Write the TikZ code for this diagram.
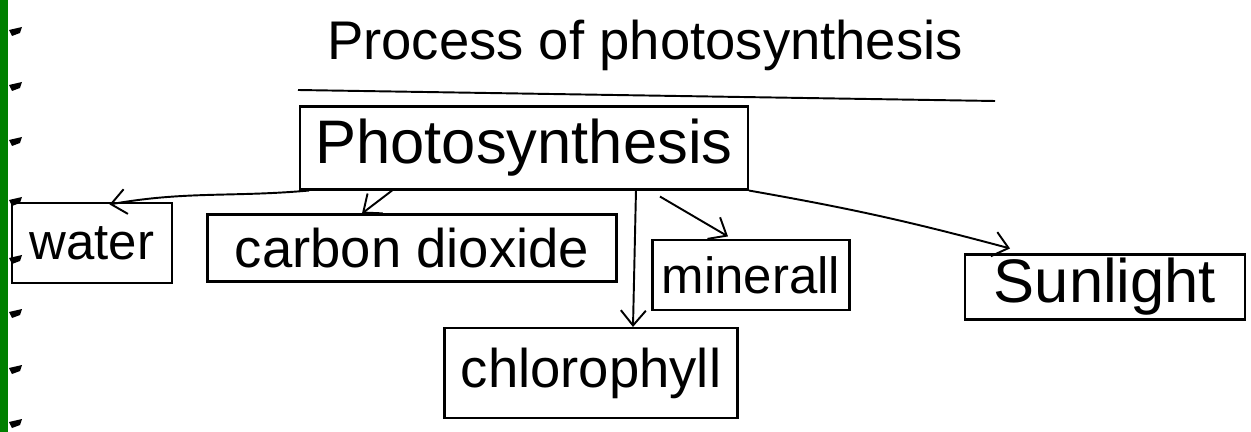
\documentclass[tikz,border=0pt]{standalone}
\usepackage{fontspec}
\setmainfont{Liberation Sans}
\usetikzlibrary{arrows.meta}
\begin{document}
\begin{tikzpicture}[x=0.02cm,y=-0.02cm,
  box/.style={draw,line width=1.2pt,inner sep=0pt},
  conn/.style={line width=1.1pt,-{Straight Barb[length=3mm,width=5mm]}}]
\useasboundingbox (0,0) rectangle (1251,432);
\fill[white] (0,0) rectangle (1251,432);
\fill[green!50!black] (0,0) rectangle (8,432);
\foreach \yy in {30,85,140,200,258,312,368,422}
  \fill[black] (9,\yy) -- (22,\yy-3) -- (20,\yy+3) -- (12,\yy+6) -- cycle;
% title
\node (title) at (645,45) {\fontsize{31}{34}\selectfont Process of photosynthesis};
\draw[line width=1.1pt] (298,90) -- (995,101);
% boxes
\node[box,minimum width=8.96cm,minimum height=1.66cm] (photo) at (524,148) {\fontsize{35}{38}\selectfont Photosynthesis};
\node[box,minimum width=3.2cm,minimum height=1.6cm] (water) at (92,243) {\fontsize{29}{31}\selectfont water};
\node[box,minimum width=8.18cm,minimum height=1.34cm] (co2) at (412,248) {\fontsize{31}{33}\selectfont carbon dioxide};
\node[box,minimum width=3.94cm,minimum height=1.4cm] (mineral) at (751,275) {\fontsize{29}{31}\selectfont minerall};
\node[box,minimum width=5.6cm,minimum height=1.3cm] (sun) at (1105,287) {\fontsize{35}{37}\selectfont Sunlight};
\node[box,minimum width=5.86cm,minimum height=1.8cm] (chloro) at (591,373) {\fontsize{31}{33}\selectfont chlorophyll};
% connectors
\draw[conn] ([xshift=0.2cm]photo.south west) to[out=185,in=10] ([xshift=0.35cm,yshift=-0.05cm]water.north);
\draw[conn] ([xshift=-2.64cm]photo.south) -- ([xshift=-1cm]co2.north);
\draw[conn] ([xshift=2.24cm]photo.south) -- ([xshift=0.84cm]chloro.north);
\draw[conn] ([xshift=2.72cm,yshift=-0.12cm]photo.south) -- ([xshift=-0.46cm,yshift=0.05cm]mineral.north);
\draw[conn] (photo.south east) to[out=-10,in=165] ([xshift=-1.9cm,yshift=0.1cm]sun.north);
\end{tikzpicture}
\end{document}
